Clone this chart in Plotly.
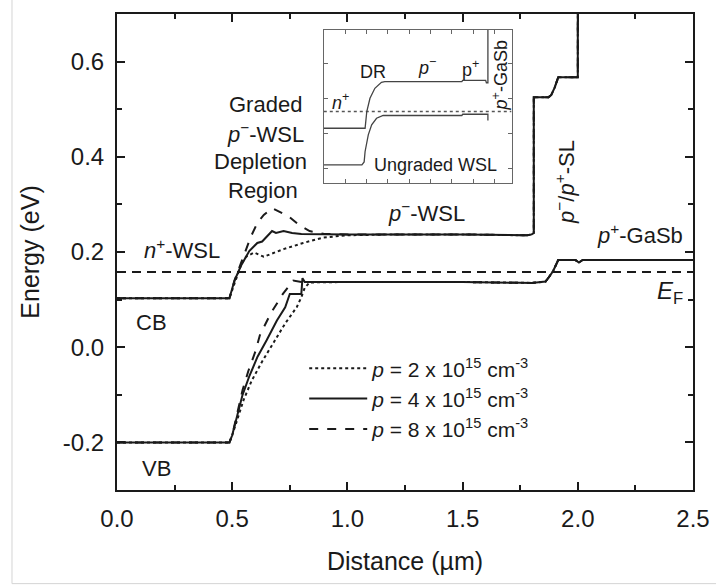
import plotly.graph_objects as go

# ---------------- main band diagram data (x: um, E: eV) ----------------
# p = 2e15 (dotted)
cb_x_p2 = [0.0, 0.488, 0.50, 0.52, 0.54, 0.56, 0.595, 0.637, 0.68, 0.723, 0.808, 0.893, 0.99, 1.2, 1.5, 1.78, 1.80, 1.809, 1.809, 1.873, 1.885, 1.90, 1.915, 2.0, 2.0]
cb_e_p2 = [0.103, 0.103, 0.12, 0.15, 0.175, 0.19, 0.199, 0.19, 0.198, 0.206, 0.219, 0.23, 0.235, 0.237, 0.237, 0.235, 0.237, 0.24, 0.525, 0.525, 0.53, 0.546, 0.567, 0.567, 0.75]
vb_x_p2 = [0.0, 0.488, 0.50, 0.525, 0.55, 0.585, 0.63, 0.68, 0.73, 0.78, 0.80, 0.815, 0.836, 1.0, 1.5, 1.80, 1.86, 1.873, 1.893, 1.915, 1.99, 2.005, 2.02, 2.5]
vb_e_p2 = [-0.2, -0.2, -0.185, -0.145, -0.11, -0.07, -0.03, 0.01, 0.05, 0.084, 0.105, 0.125, 0.136, 0.137, 0.137, 0.135, 0.138, 0.146, 0.16, 0.183, 0.183, 0.178, 0.183, 0.183]

# p = 4e15 (solid)
cb_x_p4 = [0.0, 0.488, 0.51, 0.538, 0.574, 0.609, 0.63, 0.652, 0.673, 0.69, 0.723, 0.76, 0.80, 1.0, 1.2, 1.5, 1.78, 1.80, 1.809, 1.809, 1.873, 1.885, 1.90, 1.915, 2.0, 2.0]
cb_e_p4 = [0.103, 0.103, 0.14, 0.171, 0.202, 0.219, 0.222, 0.233, 0.244, 0.240, 0.244, 0.240, 0.238, 0.237, 0.237, 0.237, 0.235, 0.237, 0.24, 0.525, 0.525, 0.53, 0.546, 0.567, 0.567, 0.75]
vb_x_p4 = [0.0, 0.488, 0.50, 0.52, 0.545, 0.575, 0.61, 0.65, 0.694, 0.73, 0.75, 0.80, 0.805, 0.815, 1.0, 1.5, 1.80, 1.86, 1.873, 1.893, 1.915, 1.99, 2.005, 2.02, 2.5]
vb_e_p4 = [-0.2, -0.2, -0.185, -0.145, -0.10, -0.06, -0.02, 0.015, 0.056, 0.084, 0.112, 0.112, 0.145, 0.137, 0.137, 0.137, 0.135, 0.138, 0.146, 0.16, 0.183, 0.183, 0.178, 0.183, 0.183]

# p = 8e15 (dashed)
cb_x_p8 = [0.0, 0.488, 0.51, 0.538, 0.559, 0.58, 0.609, 0.637, 0.673, 0.701, 0.744, 0.793, 0.836, 0.90, 1.0, 1.2, 1.5, 1.78, 1.80, 1.809, 1.809, 1.873, 1.885, 1.90, 1.915, 2.0, 2.0]
cb_e_p8 = [0.103, 0.103, 0.14, 0.175, 0.202, 0.231, 0.261, 0.278, 0.292, 0.285, 0.275, 0.256, 0.244, 0.238, 0.237, 0.237, 0.237, 0.235, 0.237, 0.24, 0.525, 0.525, 0.53, 0.546, 0.567, 0.567, 0.75]
vb_x_p8 = [0.0, 0.488, 0.50, 0.52, 0.545, 0.57, 0.60, 0.62, 0.637, 0.666, 0.72, 0.765, 0.80, 1.0, 1.5, 1.80, 1.86, 1.873, 1.893, 1.915, 1.99, 2.005, 2.02, 2.5]
vb_e_p8 = [-0.2, -0.2, -0.185, -0.14, -0.09, -0.05, -0.01, 0.025, 0.042, 0.07, 0.112, 0.14, 0.137, 0.137, 0.137, 0.135, 0.138, 0.146, 0.16, 0.183, 0.183, 0.178, 0.183, 0.183]

# Fermi level
ef_x = [0.0, 2.5]
ef_e = [0.158, 0.158]

# ---------------- inset data (normalised units) ----------------
ins_cb_x = [0.0, 0.22, 0.229, 0.246, 0.272, 0.307, 0.325, 0.735, 0.74, 0.862, 0.866, 0.874, 0.874]
ins_cb_e = [0.359, 0.359, 0.468, 0.554, 0.619, 0.658, 0.662, 0.662, 0.671, 0.671, 0.655, 0.655, 1.0]
ins_vb_x = [0.0, 0.203, 0.215, 0.22, 0.237, 0.255, 0.281, 0.316, 0.735, 0.74, 0.862, 0.874, 0.874]
ins_vb_e = [0.121, 0.121, 0.14, 0.208, 0.316, 0.381, 0.424, 0.442, 0.442, 0.45, 0.45, 0.45, 0.41]
ins_ef_x = [0.0, 1.0]
ins_ef_e = [0.468, 0.468]

legend_names = ["<i>p</i> = 2 x 10<sup>15</sup> cm<sup>-3</sup>",
                "<i>p</i> = 4 x 10<sup>15</sup> cm<sup>-3</sup>",
                "<i>p</i> = 8 x 10<sup>15</sup> cm<sup>-3</sup>"]
y_tickvals = [-0.2, 0.0, 0.2, 0.4, 0.6]
y_ticktext = ["-0.2", "0.0", "0.2", "0.4", "0.6"]
x_tickvals = [0.0, 0.5, 1.0, 1.5, 2.0, 2.5]
x_ticktext = ["0.0", "0.5", "1.0", "1.5", "2.0", "2.5"]

INK = "#1a1a1a"
FONT = "Liberation Sans, Arial, sans-serif"

fig = go.Figure()

series = [
    (cb_x_p2, cb_e_p2, vb_x_p2, vb_e_p2, "dot", legend_names[0]),
    (cb_x_p4, cb_e_p4, vb_x_p4, vb_e_p4, "solid", legend_names[1]),
    (cb_x_p8, cb_e_p8, vb_x_p8, vb_e_p8, "dash", legend_names[2]),
]
for i, (cx, ce, vx, vx_e, dash, name) in enumerate(series):
    fig.add_trace(go.Scatter(x=cx, y=ce, mode="lines", name=name, legendgroup=name,
                             line=dict(color=INK, width=2, dash=dash), showlegend=True))
    fig.add_trace(go.Scatter(x=vx, y=vx_e, mode="lines", name=name, legendgroup=name,
                             line=dict(color=INK, width=2, dash=dash), showlegend=False))

fig.add_trace(go.Scatter(x=ef_x, y=ef_e, mode="lines", showlegend=False,
                         line=dict(color=INK, width=2, dash="9px,6px")))

# inset
fig.add_trace(go.Scatter(x=ins_ef_x, y=ins_ef_e, mode="lines", xaxis="x2", yaxis="y2", showlegend=False,
                         line=dict(color="#555", width=1.3, dash="dot")))
fig.add_trace(go.Scatter(x=ins_cb_x, y=ins_cb_e, mode="lines", xaxis="x2", yaxis="y2", showlegend=False,
                         line=dict(color="#444", width=1.3)))
fig.add_trace(go.Scatter(x=ins_vb_x, y=ins_vb_e, mode="lines", xaxis="x2", yaxis="y2", showlegend=False,
                         line=dict(color="#444", width=1.3)))

ann = []
def txt(x, y, s, size=22, ref="", angle=0, **kw):
    ann.append(dict(x=x, y=y, xref="x" + ref, yref="y" + ref, text=s, showarrow=False,
                    textangle=angle, font=dict(family=FONT, size=size, color=INK), **kw))

txt(0.645, 0.510, "Graded")
txt(0.645, 0.450, "<i>p</i><sup>−</sup>-WSL")
txt(0.622, 0.390, "Depletion")
txt(0.634, 0.329, "Region")
txt(0.281, 0.206, "<i>n</i><sup>+</sup>-WSL")
txt(1.342, 0.285, "<i>p</i><sup>−</sup>-WSL")
txt(0.149, 0.052, "CB")
txt(0.17, -0.254, "VB")
txt(1.942, 0.348, "<i>p</i><sup>−</sup>/<i>p</i><sup>+</sup>-SL", angle=-90)
txt(2.27, 0.2375, "<i>p</i><sup>+</sup>-GaSb")
txt(2.398, 0.115, "<i>E</i><sub>F</sub>", size=24)

txt(0.089, 0.532, "<i>n</i><sup>+</sup>", size=18, ref="2")
txt(0.262, 0.727, "DR", size=18, ref="2")
txt(0.55, 0.76, "<i>p</i><sup>−</sup>", size=18, ref="2")
txt(0.78, 0.747, "p<sup>+</sup>", size=18, ref="2")
txt(0.942, 0.70, "<i>p</i><sup>+</sup>-GaSb", size=18, ref="2", angle=-90)
txt(0.597, 0.123, "Ungraded WSL", size=18, ref="2")

shapes = [
    dict(type="line", xref="paper", yref="paper", x0=-0.1823, x1=-0.1823, y0=-0.1967, y1=1.03,
         line=dict(color="#d4d4d4", width=1)),
    dict(type="line", xref="paper", yref="paper", x0=-0.1823, x1=1.04, y0=-0.1967, y1=-0.1967,
         line=dict(color="#d4d4d4", width=1)),
]

fig.update_layout(
    width=722, height=586, autosize=False,
    margin=dict(l=117, r=18, t=12, b=96),
    paper_bgcolor="white", plot_bgcolor="white",
    font=dict(family=FONT, size=22, color=INK),
    annotations=ann, shapes=shapes,
    showlegend=True,
    legend=dict(x=0.325, y=0.298, xanchor="left", yanchor="top", bgcolor="rgba(0,0,0,0)",
                font=dict(family=FONT, size=21, color=INK), itemwidth=58, tracegroupgap=0),
    xaxis=dict(range=[0, 2.5], tickvals=x_tickvals, ticktext=x_ticktext, ticks="inside", ticklen=8,
               tickwidth=1.5, tickcolor=INK, showline=True, linewidth=2, linecolor=INK, mirror="ticks",
               showgrid=False, zeroline=False,
               minor=dict(dtick=0.25, tick0=0, ticks="inside", ticklen=5, tickwidth=1.5, tickcolor=INK, showgrid=False),
               title=dict(text="Distance (µm)", font=dict(size=25), standoff=22),
               tickfont=dict(size=24), ticklabelstandoff=6),
    yaxis=dict(range=[-0.3, 0.7], tickvals=y_tickvals, ticktext=y_ticktext, ticks="inside", ticklen=8,
               tickwidth=1.5, tickcolor=INK, showline=True, linewidth=2, linecolor=INK, mirror="ticks",
               showgrid=False, zeroline=False,
               minor=dict(dtick=0.1, tick0=0, ticks="inside", ticklen=5, tickwidth=1.5, tickcolor=INK, showgrid=False),
               title=dict(text="Energy (eV)", font=dict(size=25), standoff=16),
               tickfont=dict(size=24), ticklabelstandoff=6),
    xaxis2=dict(domain=[0.359, 0.685], anchor="y2", range=[0, 1], showticklabels=False,
                tick0=0.1137, dtick=0.1137, ticks="inside", ticklen=4, tickcolor="#666",
                showline=True, linewidth=1, linecolor="#666", mirror="ticks", showgrid=False, zeroline=False),
    yaxis2=dict(domain=[0.644, 0.967], anchor="x2", range=[0, 1], showticklabels=False,
                tick0=0.098, dtick=0.227, ticks="inside", ticklen=4, tickcolor="#666",
                showline=True, linewidth=1, linecolor="#666", mirror="ticks", showgrid=False, zeroline=False),
)

fig.write_html("out.html")
